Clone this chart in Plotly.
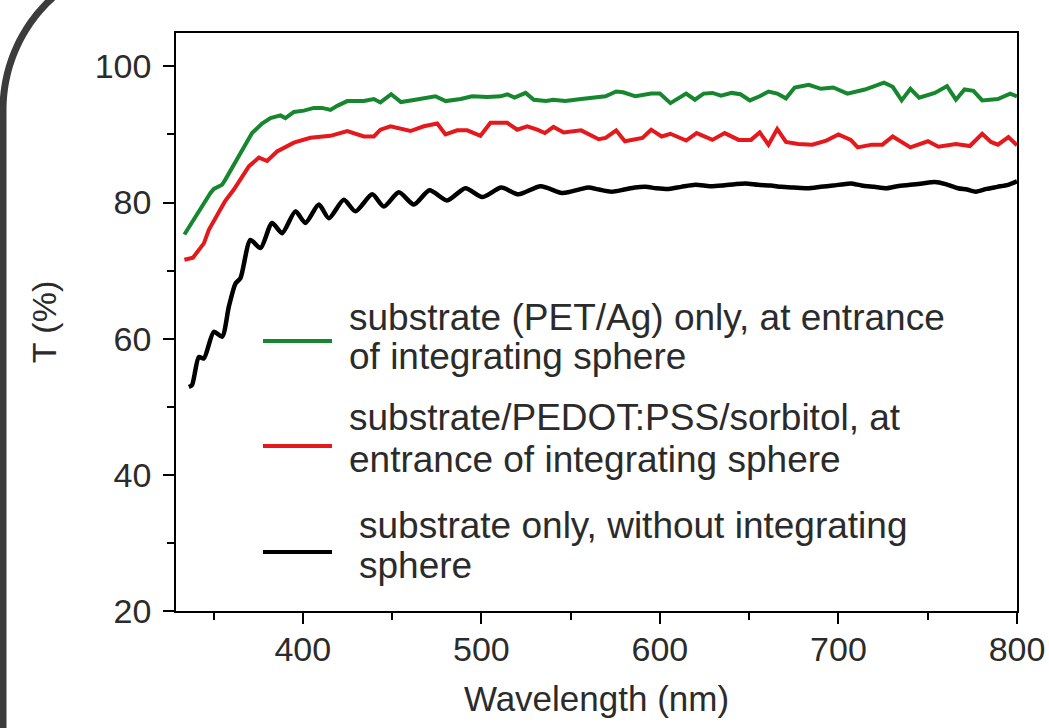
import math
import plotly.graph_objects as go

# ---------------- data ----------------
green_nm = [333.7, 340, 344.6, 348.3, 350.2, 354.8, 356.7, 361.4, 366.0, 371.6, 377.2, 381.9,
            387.5, 390.3, 395.0, 400.6, 406.2, 410.8, 415.5, 419.3, 424.9, 429.5, 434.2, 439.8,
            443.5, 449.5, 455.0, 462.2, 468.0, 474.3, 480.0, 488.4, 494.9, 503.3, 510.8, 514.5,
            518.6, 524.8, 529.4, 536.3, 540.2, 547.0, 555.9, 562.0, 569.6, 575.5, 579.4, 586.3,
            595.1, 600.0, 605.9, 614.7, 619.6, 624.5, 629.4, 634.3, 640.2, 645.1, 650.4, 655.9,
            660.8, 665.7, 670.6, 675.5, 683.4, 690.2, 697.1, 705.0, 714.8, 725.5, 730.4, 735.4,
            740.3, 745.2, 754.0, 760.8, 765.8, 770.6, 775.6, 780.5, 789.3, 796.2, 800.0]
green_T = [75.3, 78.0, 79.9, 81.4, 82.0, 82.6, 83.4, 85.6, 87.8, 90.2, 91.6, 92.4,
           92.8, 92.4, 93.3, 93.5, 93.9, 93.9, 93.6, 94.2, 94.9, 94.9, 94.9, 95.2,
           94.7, 95.9, 94.75, 95.05, 95.3, 95.6, 94.9, 95.2, 95.6, 95.5, 95.6, 95.9,
           95.4, 96.1, 95.1, 94.9, 95.1, 94.9, 95.2, 95.4, 95.6, 96.3, 96.2, 95.6,
           96.0, 96.0, 94.6, 96.0, 95.1, 96.0, 96.1, 95.7, 96.1, 95.9, 95.0, 95.6,
           96.3, 96.0, 95.3, 96.9, 97.3, 96.7, 96.9, 96.0, 96.6, 97.6, 97.0, 95.0,
           96.7, 95.4, 96.1, 97.1, 95.1, 96.6, 96.4, 95.0, 95.2, 96.0, 95.6]

red_nm = [333.7, 338.5, 344.6, 347.4, 353.9, 356.5, 361.4, 369.8, 375.4, 380.0, 385.6, 395.0,
          404.3, 415.5, 424.9, 434.2, 439.8, 443.5, 449.1, 460.3, 467.8, 475.3, 479.9, 486.5,
          492.1, 499.5, 505.1, 514.5, 520.1, 525.7, 531.3, 535.6, 540.4, 546.1, 555.9, 565.7,
          569.6, 575.5, 580.4, 590.2, 595.1, 601.0, 605.9, 614.7, 620.6, 629.4, 636.3, 644.1,
          651.0, 655.9, 660.8, 665.7, 670.6, 677.5, 685.3, 693.2, 700.0, 706.9, 710.8, 718.7,
          724.6, 730.4, 740.3, 750.1, 756.0, 765.8, 773.6, 780.5, 785.4, 789.3, 795.2, 800.0]
red_T = [71.6, 71.9, 74.0, 76.0, 79.0, 80.2, 81.9, 85.3, 86.6, 86.1, 87.5, 88.8,
         89.5, 89.8, 90.5, 89.7, 89.7, 90.7, 91.2, 90.5, 91.2, 91.6, 90.0, 90.6,
         90.6, 89.8, 91.7, 91.7, 90.7, 91.2, 90.7, 90.2, 91.1, 90.3, 90.6, 89.3,
         89.5, 90.6, 89.0, 89.5, 90.7, 89.7, 90.1, 89.1, 90.2, 89.2, 90.2, 89.2,
         89.2, 90.3, 88.5, 90.8, 88.9, 88.6, 88.5, 89.1, 90.0, 89.2, 88.1, 88.5,
         88.5, 89.7, 88.1, 89.0, 88.2, 88.6, 88.3, 90.1, 88.9, 88.5, 89.6, 88.4]

black_nm = [336.2, 338.0, 341.8, 344.6, 350.2, 354.8, 358.6, 362.3, 365.1, 370.7, 376.3, 382.8,
            388.4, 395.9, 401.5, 409.0, 414.6, 423.0, 429.5, 438.9, 445.4, 453.8, 462.2, 471.0,
            480.8, 491.1, 500.5, 511.2, 520.8, 533.2, 545.0, 550, 556, 560, 566, 573, 580, 586,
            592, 598, 605, 612, 620, 628, 635, 642, 648, 655, 662, 668, 675, 683, 690, 697, 703,
            707, 713, 720, 727, 733, 740, 747, 754, 760, 767, 772, 777, 783, 789, 795, 800]
black_T = [52.9, 53.2, 57.3, 57.1, 61.0, 60.3, 64.7, 68.1, 68.9, 74.5, 73.3, 77.0,
           75.5, 78.7, 77.0, 79.7, 77.7, 80.4, 78.7, 81.2, 79.4, 81.5, 79.7, 81.8,
           80.3, 82.1, 80.8, 82.2, 81.2, 82.4, 81.4, 81.6, 82.0, 82.2, 81.9, 81.6, 81.9, 82.2,
           82.3, 82.1, 82.0, 82.3, 82.6, 82.4, 82.5, 82.7, 82.8, 82.6, 82.5, 82.3, 82.2, 82.1,
           82.3, 82.5, 82.7, 82.8, 82.5, 82.3, 82.1, 82.4, 82.6, 82.8, 83.0, 82.7, 82.1, 81.9,
           81.6, 82.0, 82.3, 82.6, 83.1]

series_names = ["substrate (PET/Ag) only, at entrance of integrating sphere",
                "substrate/PEDOT:PSS/sorbitol, at entrance of integrating sphere",
                "substrate only, without integrating sphere"]
legend_lines = [["substrate (PET/Ag) only, at entrance", "of integrating sphere"],
                ["substrate/PEDOT:PSS/sorbitol, at", "entrance of integrating sphere"],
                ["substrate only, without integrating", "sphere"]]
x_ticks = [400, 500, 600, 700, 800]
y_ticks = [20, 40, 60, 80, 100]

GREEN = "#17872f"
RED = "#e5191b"
BLACK = "#000000"
FONT = "Liberation Sans, Arial, sans-serif"
TXT = "#2b2b2b"

W, H = 1049, 728
ML, MR, MT, MB = 176, 32, 33, 117
PW, PH = W - ML - MR, H - MT - MB


def px2paper(px, py):
    return (px - ML) / PW, (H - MB - py) / PH


fig = go.Figure()
for xs, ys, c, n, shp in [(green_nm, green_T, GREEN, series_names[0], "linear"),
                          (red_nm, red_T, RED, series_names[1], "linear"),
                          (black_nm, black_T, BLACK, series_names[2], "spline")]:
    fig.add_trace(go.Scatter(x=xs, y=ys, mode="lines", name=n,
                             line=dict(color=c, width=4.5 if c == BLACK else 4, shape=shp,
                                       smoothing=0.7),
                             showlegend=False))

shapes = []
annotations = []
# manual legend
leg_y = [341, 446, 552]
txt_x = [347, 347, 357]
txt_y = [[317, 357], [417, 459], [525, 565]]
for i, c in enumerate([GREEN, RED, BLACK]):
    x0, y0 = px2paper(263, leg_y[i])
    x1, _ = px2paper(332, leg_y[i])
    shapes.append(dict(type="line", xref="paper", yref="paper", x0=x0, x1=x1, y0=y0, y1=y0,
                       line=dict(color=c, width=4)))
    for j, line in enumerate(legend_lines[i]):
        ax, ay = px2paper(txt_x[i], txt_y[i][j])
        annotations.append(dict(text=line, xref="paper", yref="paper", x=ax, y=ay,
                                xanchor="left", yanchor="middle", showarrow=False,
                                font=dict(family=FONT, size=37, color=TXT)))

# decorative rounded frame at left edge of the image
pts = []
for k in range(0, 50):
    t = math.radians(49 - k)
    pts.append((155 - 152 * math.cos(t), 110 - 152 * math.sin(t)))
pts.append((3, 110))
pts.append((3, 740))
path = "M " + " L ".join("%.5f,%.5f" % px2paper(a, b) for a, b in pts)
shapes.append(dict(type="path", xref="paper", yref="paper", path=path,
                   line=dict(color="#3c3c3c", width=7)))

axis_common = dict(showline=True, linecolor="black", linewidth=1.5, mirror=True,
                   ticks="outside", ticklen=11, tickwidth=1.5, tickcolor="black",
                   showgrid=False, zeroline=False,
                   tickfont=dict(family=FONT, size=34, color=TXT))

fig.update_layout(
    width=W, height=H,
    margin=dict(l=ML, r=MR, t=MT, b=MB, autoexpand=False),
    paper_bgcolor="white", plot_bgcolor="white",
    showlegend=False,
    xaxis=dict(range=[329, 800], tickvals=x_ticks, ticktext=[str(v) for v in x_ticks],
               minor=dict(dtick=50, tick0=350, ticks="outside", ticklen=7, tickwidth=1.5,
                          tickcolor="black"),
               title=dict(text="Wavelength (nm)", font=dict(family=FONT, size=35, color=TXT),
                          standoff=20),
               ticklabelstandoff=-4,
               **axis_common),
    yaxis=dict(range=[20, 104.9], tickvals=y_ticks, ticktext=[str(v) for v in y_ticks],
               minor=dict(dtick=10, tick0=0, ticks="outside", ticklen=7, tickwidth=1.5,
                          tickcolor="black"),
               title=dict(text="T (%)", font=dict(family=FONT, size=34, color=TXT),
                          standoff=28),
               ticklabelstandoff=5,
               **axis_common),
    shapes=shapes,
    annotations=annotations,
)

fig.write_html("out.html", config={"displayModeBar": False},
               post_script="document.body.style.margin='0px';")
